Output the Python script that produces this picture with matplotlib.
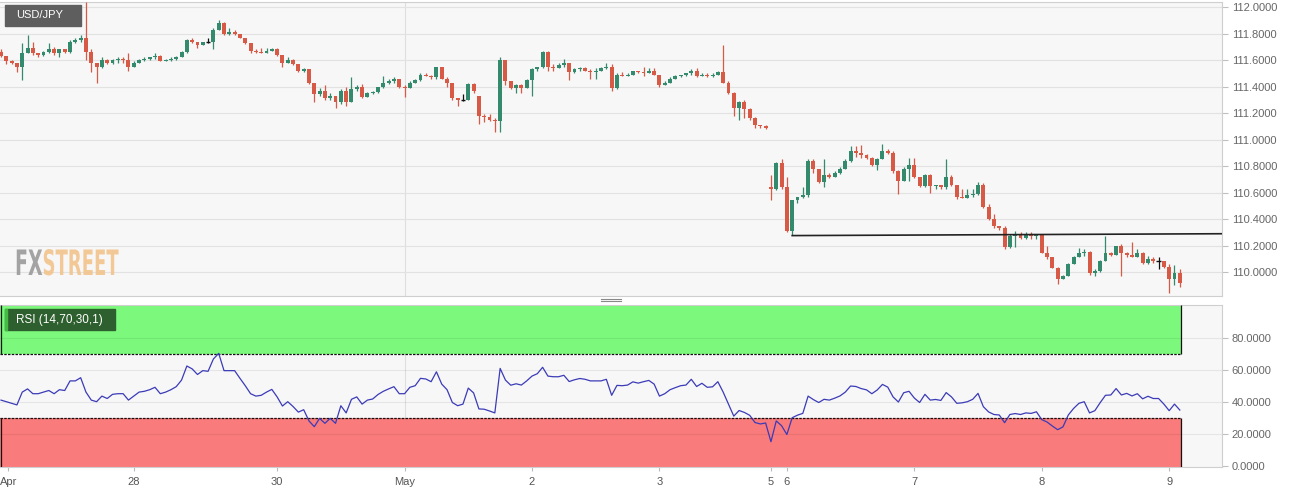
import matplotlib.pyplot as plt
import numpy as np
from matplotlib.patches import Rectangle, PathPatch
from matplotlib.textpath import TextPath
from matplotlib.font_manager import FontProperties
from matplotlib.transforms import Affine2D

plt.rcParams['font.family'] = ['Liberation Sans', 'DejaVu Sans']

# hourly USD/JPY candles
first_open = 111.66
closes = [111.63, 111.59, 111.58, 111.55, 111.65, 111.69, 111.65, 111.64, 111.66, 111.68,
          111.65, 111.68, 111.66, 111.74, 111.75, 111.77, 111.66, 111.58, 111.55, 111.60,
          111.58, 111.60, 111.61, 111.60, 111.55, 111.58, 111.60, 111.61, 111.62, 111.63,
          111.59, 111.60, 111.61, 111.62, 111.66, 111.75, 111.74, 111.71, 111.74, 111.74,
          111.83, 111.88, 111.80, 111.81, 111.80, 111.77, 111.73, 111.67, 111.66, 111.65,
          111.67, 111.68, 111.64, 111.58, 111.60, 111.57, 111.52, 111.53, 111.43, 111.34,
          111.37, 111.31, 111.33, 111.28, 111.37, 111.28, 111.38, 111.40, 111.32, 111.35,
          111.36, 111.40, 111.43, 111.44, 111.46, 111.40, 111.39, 111.43, 111.45, 111.49,
          111.48, 111.47, 111.55, 111.46, 111.43, 111.31, 111.30, 111.30, 111.42, 111.37,
          111.18, 111.17, 111.15, 111.14, 111.60, 111.44, 111.39, 111.41, 111.39, 111.45,
          111.53, 111.55, 111.66, 111.55, 111.54, 111.56, 111.58, 111.51, 111.53, 111.54,
          111.52, 111.51, 111.52, 111.54, 111.55, 111.39, 111.49, 111.48, 111.49, 111.52,
          111.51, 111.50, 111.52, 111.49, 111.41, 111.43, 111.46, 111.48, 111.49, 111.50,
          111.52, 111.48, 111.49, 111.48, 111.49, 111.51, 111.43, 111.35, 111.24, 111.28,
          111.23, 111.16, 111.11, 111.10, 111.09, 110.63, 110.82, 110.64, 110.31, 110.54,
          110.57, 110.58, 110.84, 110.78, 110.68, 110.73, 110.72, 110.75, 110.78, 110.84,
          110.91, 110.90, 110.88, 110.86, 110.81, 110.85, 110.91, 110.90, 110.76, 110.69,
          110.78, 110.81, 110.72, 110.65, 110.73, 110.65, 110.66, 110.64, 110.72, 110.66,
          110.57, 110.56, 110.58, 110.59, 110.66, 110.49, 110.40, 110.35, 110.33, 110.19,
          110.27, 110.29, 110.26, 110.28, 110.27, 110.28, 110.14, 110.11, 110.03, 109.95,
          109.97, 110.06, 110.11, 110.14, 110.15, 109.99, 110.01, 110.08, 110.14, 110.13,
          110.20, 110.14, 110.13, 110.11, 110.14, 110.07, 110.10, 110.08, 110.08, 110.04,
          109.95, 109.99, 109.92]
highs = [111.68, 111.63, 111.60, 111.58, 111.73, 111.79, 111.74, 111.65, 111.67, 111.73,
         111.70, 111.68, 111.68, 111.75, 111.77, 111.79, 112.04, 111.68, 111.58, 111.62,
         111.61, 111.61, 111.62, 111.62, 111.65, 111.59, 111.61, 111.62, 111.62, 111.65,
         111.64, 111.61, 111.62, 111.63, 111.67, 111.76, 111.77, 111.74, 111.74, 111.77,
         111.84, 111.90, 111.89, 111.84, 111.83, 111.80, 111.77, 111.73, 111.68, 111.69,
         111.69, 111.69, 111.69, 111.64, 111.62, 111.61, 111.57, 111.54, 111.53, 111.42,
         111.39, 111.41, 111.35, 111.33, 111.38, 111.40, 111.47, 111.41, 111.42, 111.36,
         111.37, 111.40, 111.48, 111.46, 111.47, 111.46, 111.41, 111.44, 111.46, 111.50,
         111.50, 111.49, 111.55, 111.55, 111.47, 111.43, 111.31, 111.34, 111.43, 111.43,
         111.33, 111.19, 111.19, 111.16, 111.62, 111.60, 111.44, 111.42, 111.42, 111.46,
         111.54, 111.55, 111.67, 111.67, 111.57, 111.58, 111.61, 111.58, 111.54, 111.55,
         111.55, 111.53, 111.54, 111.55, 111.58, 111.57, 111.50, 111.51, 111.50, 111.52,
         111.52, 111.55, 111.54, 111.54, 111.49, 111.44, 111.47, 111.49, 111.49, 111.50,
         111.53, 111.54, 111.50, 111.50, 111.50, 111.52, 111.71, 111.44, 111.36, 111.29,
         111.30, 111.24, 111.17, 111.11, 111.11, 110.73, 110.83, 110.85, 110.72, 110.54,
         110.57, 110.64, 110.85, 110.85, 110.78, 110.85, 110.75, 110.76, 110.79, 110.85,
         110.95, 110.95, 110.96, 110.89, 110.87, 110.86, 110.97, 110.93, 110.91, 110.77,
         110.79, 110.86, 110.86, 110.72, 110.74, 110.74, 110.66, 110.66, 110.85, 110.73,
         110.66, 110.63, 110.63, 110.63, 110.68, 110.67, 110.51, 110.44, 110.35, 110.35,
         110.29, 110.31, 110.30, 110.30, 110.30, 110.29, 110.29, 110.20, 110.11, 110.04,
         109.98, 110.07, 110.12, 110.18, 110.17, 110.16, 110.02, 110.09, 110.27, 110.15,
         110.20, 110.21, 110.15, 110.23, 110.17, 110.15, 110.12, 110.11, 110.11, 110.08,
         110.06, 110.05, 110.02]
lows = [111.62, 111.57, 111.57, 111.51, 111.45, 111.65, 111.64, 111.62, 111.63, 111.65,
        111.64, 111.62, 111.65, 111.65, 111.73, 111.74, 111.60, 111.51, 111.43, 111.54,
        111.57, 111.57, 111.58, 111.58, 111.52, 111.55, 111.58, 111.59, 111.60, 111.61,
        111.59, 111.59, 111.59, 111.60, 111.62, 111.65, 111.73, 111.69, 111.71, 111.73,
        111.68, 111.83, 111.79, 111.79, 111.79, 111.77, 111.72, 111.65, 111.65, 111.65,
        111.65, 111.67, 111.63, 111.55, 111.58, 111.56, 111.51, 111.51, 111.42, 111.28,
        111.33, 111.30, 111.30, 111.24, 111.27, 111.25, 111.28, 111.37, 111.31, 111.32,
        111.34, 111.35, 111.39, 111.42, 111.43, 111.39, 111.32, 111.39, 111.43, 111.44,
        111.48, 111.46, 111.46, 111.46, 111.40, 111.30, 111.25, 111.29, 111.30, 111.35,
        111.12, 111.13, 111.14, 111.06, 111.06, 111.41, 111.38, 111.35, 111.35, 111.39,
        111.33, 111.52, 111.54, 111.52, 111.52, 111.55, 111.55, 111.45, 111.50, 111.52,
        111.52, 111.46, 111.46, 111.52, 111.53, 111.37, 111.38, 111.48, 111.48, 111.49,
        111.50, 111.48, 111.51, 111.49, 111.40, 111.41, 111.43, 111.46, 111.47, 111.48,
        111.49, 111.47, 111.48, 111.47, 111.47, 111.49, 111.43, 111.34, 111.18, 111.15,
        111.16, 111.15, 111.09, 111.09, 111.08, 110.54, 110.62, 110.63, 110.30, 110.28,
        110.52, 110.56, 110.57, 110.75, 110.67, 110.64, 110.71, 110.72, 110.74, 110.78,
        110.83, 110.87, 110.86, 110.85, 110.80, 110.77, 110.85, 110.89, 110.75, 110.59,
        110.69, 110.69, 110.71, 110.64, 110.64, 110.60, 110.63, 110.63, 110.63, 110.65,
        110.55, 110.56, 110.56, 110.57, 110.58, 110.48, 110.39, 110.33, 110.32, 110.17,
        110.18, 110.19, 110.25, 110.25, 110.25, 110.25, 110.14, 110.10, 110.03, 109.91,
        109.95, 109.97, 110.06, 110.11, 110.12, 109.98, 109.97, 110.00, 110.08, 110.12,
        110.13, 109.97, 110.11, 110.11, 110.11, 110.06, 110.06, 110.07, 110.02, 110.03,
        109.84, 109.90, 109.89]
# candles that open away from the previous close (weekend gap etc.)
gap_opens = {90: 111.33, 145: 110.64}

rsi = [41, 40, 39, 38, 46, 48, 45, 45, 46, 47, 45, 47.5, 47, 53, 53, 55, 46, 41, 40, 43.5,
       42, 44.6, 45, 45, 41, 43.5, 46, 46.5, 47.5, 49, 45, 46, 47.5, 49.4, 53.5, 62.3, 60.5, 57, 59.4, 59,
       66.7, 70.2, 59.4, 59.4, 59.4, 54.6, 50, 45, 43.5, 44, 46, 47.7, 43, 37.3, 40, 37, 33.5, 35, 28, 24.4,
       29.6, 26.5, 29.6, 26.5, 37.5, 33, 41.5, 43, 38.5, 41, 41.7, 44.5, 46.5, 48, 49.4, 45, 45, 49, 50, 54.6,
       54.2, 52.5, 58.7, 51, 47.5, 39.5, 37.5, 38.5, 48.5, 45.5, 35.5, 35.3, 34.2, 33, 60.8, 53.5, 50.3, 51.2,
       50.4, 53, 56, 57.5, 61.5, 56, 55.6, 55.6, 56.5, 52.6, 53.7, 54.5, 54, 53, 53, 53, 54, 44, 50.2, 50,
       50.4, 52.4, 51.6, 52.5, 53.3, 51, 43.5, 45, 47.5, 48.8, 50, 50.4, 54, 49.5, 51.5, 49, 49.3, 52.5,
       46, 38.5, 31, 34.5, 33.3, 31.5, 27, 26.1, 26.7, 15, 28, 25, 19.5, 30, 31.6, 32.7, 43.5, 41.3, 39.5,
       41.5, 41, 42.2, 43.6, 46, 49.8, 49.5, 48.2, 47.4, 45, 47.3, 50.8, 49.1, 43, 39.8, 45.6, 46.5, 42.3,
       39.5, 44.6, 41, 41.4, 40.8, 45.7, 43, 39, 39.3, 40, 41.5, 45.2, 36.9, 33.6, 32, 31.7, 26.9, 32, 32.6,
       32, 33, 32.7, 33.7, 28.8, 27.3, 24.8, 22.5, 24.3, 31.7, 35.8, 39, 40, 33, 34.4, 39.4, 44, 44.2, 48.2,
       44.2, 45.2, 43.6, 45, 41.8, 43.4, 42, 42, 38.5, 34.4, 38.5, 34.8]

day_ticks = [1.4, 25, 52, 76, 100, 124, 145, 148, 172, 196, 220]
day_labels = ['Apr', '28', '30', 'May', '2', '3', '5', '6', '7', '8', '9']
may_idx = 76

support_start = 149
support_levels = [110.275, 110.289]

price_ticks = [110.0, 110.2, 110.4, 110.6, 110.8, 111.0, 111.2, 111.4, 111.6, 111.8, 112.0]
rsi_ticks = [0, 20, 40, 60, 80]

up_col = '#348a6c'
down_col = '#d65a45'

n = len(closes)
idx = np.arange(n)
c = np.array(closes)
o = np.array([first_open] + closes[:-1])
for k, v in gap_opens.items():
    o[k] = v
h = np.maximum(np.array(highs), np.maximum(o, c))
l = np.minimum(np.array(lows), np.minimum(o, c))
cols = np.where(c > o, up_col, np.where(c < o, down_col, '#111111'))

xmin, xmax = -0.19, 229.94

fig = plt.figure(figsize=(12.99, 4.93), dpi=100)
fig.patch.set_facecolor('white')
ax = fig.add_axes([0, 0.3996, 0.9407, 0.5963])
ax2 = fig.add_axes([0, 0.0527, 0.9407, 0.3286])

for a in (ax, ax2):
    a.set_facecolor('#f7f7f7')
    a.set_xlim(xmin, xmax)
    a.spines['left'].set_visible(False)
    for s in ('top', 'right', 'bottom'):
        a.spines[s].set_color('#cfcfcf')
        a.spines[s].set_linewidth(0.8)
    a.yaxis.tick_right()
    a.tick_params(axis='y', length=4, color='#c0c0c0', labelcolor='#666666',
                  labelsize=8, pad=3, width=0.8)
    a.axvline(may_idx, color='#dedede', lw=0.8, zorder=0)

# price panel
ax.set_ylim(109.819, 112.038)
ax.set_yticks(price_ticks)
ax.set_yticklabels(['%.4f' % v for v in price_ticks])
for v in price_ticks:
    ax.axhline(v, color='#e2e2e2', lw=0.8, zorder=0)
ax.set_xticks([])

ax.vlines(idx, l, h, colors=cols, lw=0.9, zorder=3)
body = np.abs(c - o)
ax.bar(idx, body, bottom=np.minimum(o, c), width=0.74, color=cols, zorder=4, linewidth=0)
doji = idx[c == o]
ax.hlines(c[doji], doji - 0.4, doji + 0.4, colors='#111111', lw=1.0, zorder=4)

ax.plot([support_start, xmax], support_levels, color='#222222', lw=1.2, zorder=5)

# RSI panel
ax2.set_ylim(-0.8, 100.4)
ax2.set_yticks(rsi_ticks)
ax2.set_yticklabels(['%.4f' % v for v in rsi_ticks])
band_end = n - 1 + 0.2
ax2.fill_between([xmin, band_end], 70, 100.4, color='#7cf97c', zorder=1, lw=0)
ax2.fill_between([xmin, band_end], -0.8, 30, color='#fa7b7b', zorder=1, lw=0)
for v in rsi_ticks[1:]:
    ax2.axhline(v, color='black', alpha=0.07, lw=0.8, zorder=2)
ax2.plot([xmin, band_end], [70, 70], color='#111111', lw=0.9, ls=(0, (2, 1)), zorder=3)
ax2.plot([xmin, band_end], [30, 30], color='#111111', lw=0.9, ls=(0, (2, 1)), zorder=3)
ax2.vlines([0, band_end], 70, 100.4, colors='#111111', lw=0.9, zorder=3)
ax2.vlines([0, band_end], -0.8, 30, colors='#111111', lw=0.9, zorder=3)
ax2.plot(idx, rsi, color='#3b3bb8', lw=0.9, zorder=4)

ax2.set_xticks(day_ticks)
ax2.set_xticklabels(day_labels)
ax2.tick_params(axis='x', length=3, color='#bbbbbb', labelcolor='#555555', labelsize=8, pad=4)

# overlay for boxes, logo and the panel handle (pixel coordinates)
ov = fig.add_axes([0, 0, 1, 1], zorder=10)
ov.set_xlim(0, 1299)
ov.set_ylim(0, 493)
ov.axis('off')
ov.patch.set_alpha(0)

ov.add_patch(Rectangle((5, 493 - 26), 76, 21, color='#5e5e5e'))
ov.text(16, 493 - 15.5, 'USD/JPY', color='white', fontsize=8, va='center')
ov.add_patch(Rectangle((5, 493 - 330), 110, 21, color='#2e5f2e'))
ov.add_patch(Rectangle((5, 493 - 330), 2, 21, color='#44bb44'))
ov.text(16, 493 - 319.5, 'RSI (14,70,30,1)', color='white', fontsize=8.5, va='center')

ov.plot([601, 621], [493 - 298.5, 493 - 298.5], color='#888888', lw=0.8)
ov.plot([601, 621], [493 - 301, 493 - 301], color='#888888', lw=0.8)

fp = FontProperties(family='DejaVu Sans', weight='bold')
tp_fx = TextPath((0, 0), 'FX', size=1, prop=fp)
tp_st = TextPath((0, 0), 'STREET', size=1, prop=fp)
sx, sy = 19, 35
tr = Affine2D().scale(sx, sy).translate(15, 493 - 275)
ov.add_patch(PathPatch(tr.transform_path(tp_fx), color='#9a9a9a', lw=0, alpha=0.9))
fx_w = tp_fx.get_extents().width * sx
tr2 = Affine2D().scale(sx * 0.95, sy).translate(15 + fx_w + 2, 493 - 275)
ov.add_patch(PathPatch(tr2.transform_path(tp_st), color='#f2c48c', lw=0, alpha=0.9))

fig.savefig('out.png', dpi=100)
